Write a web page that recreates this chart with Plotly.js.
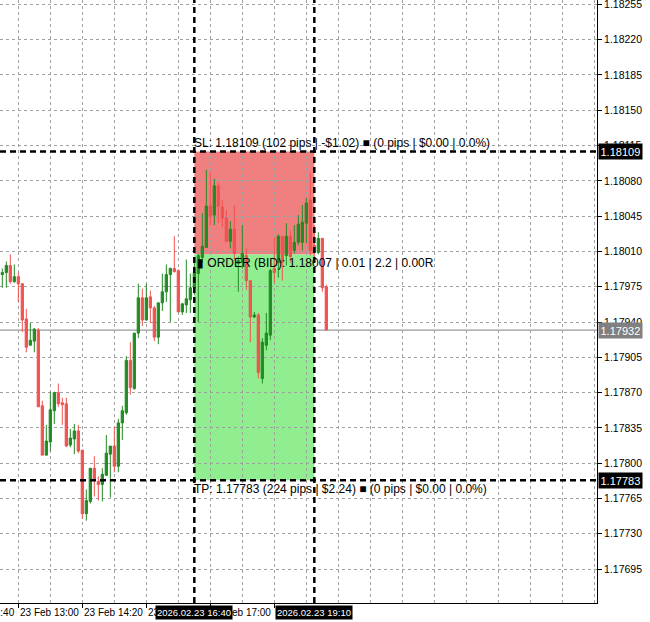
<!DOCTYPE html>
<html><head><meta charset="utf-8">
<script src="https://cdn.plot.ly/plotly-3.0.1.min.js"></script>
<style>html,body{margin:0;padding:0;background:#fff}#chart{width:650px;height:622px}</style>
</head><body><div id="chart"></div>
<script>
const day = '2026-02-23';
const times = ['12:40','12:45','12:50','12:55',
 '13:00','13:05','13:10','13:15','13:20','13:25','13:30','13:35','13:40','13:45','13:50','13:55',
 '14:00','14:05','14:10','14:15','14:20','14:25','14:30','14:35','14:40','14:45','14:50','14:55',
 '15:00','15:05','15:10','15:15','15:20','15:25','15:30','15:35','15:40','15:45','15:50','15:55',
 '16:00','16:05','16:10','16:15','16:20','16:25','16:30','16:35','16:40','16:45','16:50','16:55',
 '17:00','17:05','17:10','17:15','17:20','17:25','17:30','17:35','17:40','17:45','17:50','17:55',
 '18:00','18:05','18:10','18:15','18:20','18:25','18:30','18:35','18:40','18:45','18:50','18:55',
 '19:00','19:05','19:10','19:15','19:20','19:25'];
const opens = [1.17987,1.17989,1.17996,1.17980,1.17985,1.17978,1.17943,1.17917,1.17921,1.17932,
 1.17857,1.17808,1.17821,1.17852,1.17870,1.17860,1.17859,1.17818,1.17824,1.17832,
 1.17813,1.17750,1.17762,1.17795,1.17782,1.17779,1.17788,1.17809,1.17817,1.17797,
 1.17840,1.17850,1.17902,1.17874,1.17929,1.17964,1.17942,1.17965,1.17954,1.17925,
 1.17959,1.17970,1.17987,1.17993,1.17991,1.17950,1.17957,1.17962,1.17974,1.17988,
 1.18004,1.18014,1.18055,1.18046,1.18075,1.18054,1.18043,1.18020,1.18032,1.17998,
 1.17999,1.18006,1.17981,1.17945,1.17947,1.17884,1.17917,1.17927,1.17993,1.17999,
 1.18025,1.18006,1.18025,1.18011,1.18019,1.18019,1.18038,1.18061,1.18016,1.18009,
 1.18023,1.17975];
const highs = [1.17993,1.18000,1.18007,1.17997,1.17989,1.17978,1.17953,1.17939,1.17934,1.17934,
 1.17862,1.17838,1.17871,1.17871,1.17879,1.17865,1.17865,1.17834,1.17839,1.17838,
 1.17813,1.17774,1.17795,1.17807,1.17787,1.17795,1.17828,1.17817,1.17836,1.17844,
 1.17857,1.17906,1.17920,1.17929,1.17978,1.17973,1.17978,1.17971,1.17956,1.17959,
 1.17988,1.17997,1.17994,1.18025,1.17992,1.17959,1.18002,1.17988,1.18003,1.18008,
 1.18048,1.18091,1.18088,1.18082,1.18078,1.18061,1.18051,1.18040,1.18056,1.18005,
 1.18036,1.18013,1.17981,1.17950,1.17949,1.17924,1.17949,1.17993,1.18024,1.18027,
 1.18025,1.18038,1.18031,1.18036,1.18046,1.18056,1.18063,1.18088,1.18036,1.18029,
 1.18023,1.17977];
const lows = [1.17974,1.17974,1.17978,1.17979,1.17960,1.17930,1.17910,1.17917,1.17910,1.17856,
 1.17808,1.17808,1.17812,1.17839,1.17856,1.17838,1.17816,1.17816,1.17809,1.17810,
 1.17745,1.17743,1.17760,1.17767,1.17763,1.17762,1.17788,1.17766,1.17791,1.17791,
 1.17823,1.17848,1.17868,1.17873,1.17924,1.17936,1.17942,1.17939,1.17921,1.17918,
 1.17951,1.17960,1.17940,1.17989,1.17950,1.17947,1.17949,1.17949,1.17967,1.17940,
 1.17999,1.18014,1.18036,1.18036,1.18038,1.18034,1.18019,1.18013,1.18001,1.17970,
 1.17993,1.17972,1.17920,1.17944,1.17884,1.17879,1.17912,1.17922,1.17979,1.17984,
 1.17981,1.17996,1.17999,1.18008,1.18016,1.18011,1.18018,1.18006,1.18003,1.18007,
 1.17970,1.17932];
const closes = [1.17989,1.17996,1.17980,1.17985,1.17978,1.17942,1.17915,1.17922,1.17933,1.17856,
 1.17808,1.17822,1.17853,1.17870,1.17859,1.17858,1.17817,1.17825,1.17832,1.17812,
 1.17750,1.17763,1.17795,1.17783,1.17779,1.17789,1.17810,1.17817,1.17797,1.17840,
 1.17852,1.17902,1.17875,1.17929,1.17964,1.17942,1.17964,1.17954,1.17925,1.17959,
 1.17970,1.17987,1.17993,1.17990,1.17950,1.17958,1.17963,1.17974,1.17989,1.18006,
 1.18015,1.18055,1.18045,1.18075,1.18055,1.18043,1.18020,1.18032,1.18008,1.18001,
 1.18008,1.17981,1.17945,1.17947,1.17890,1.17920,1.17929,1.17991,1.17989,1.18025,
 1.17999,1.18025,1.18005,1.18019,1.18037,1.18039,1.18058,1.18011,1.18009,1.18023,
 1.17974,1.17932];

const slPrice = 1.18109, entryPrice = 1.18007, tpPrice = 1.17783, bidPrice = 1.17932;
const entryTime = '2026-02-23 16:40', exitTime = '2026-02-23 19:10';
const xTickTimes = ['2026-02-23 11:40','2026-02-23 13:00','2026-02-23 14:20','2026-02-23 15:40','2026-02-23 17:00','2026-02-23 18:20'];
const xTickLabels = ['23 Feb 11:40','23 Feb 13:00','23 Feb 14:20','23 Feb 15:40','23 Feb 17:00','23 Feb 18:20'];
const slText = 'SL: 1.18109 (102 pips | -$1.02) ■ (0 pips | $0.00 | 0.0%)';
const orderText = '▮ ORDER (BID): 1.18007 | 0.01 | 2.2 | 0.00R';
const tpText = 'TP: 1.17783 (224 pips | $2.24) ■ (0 pips | $0.00 | 0.0%)';
const entryLabel = '2026.02.23 16:40', exitLabel = '2026.02.23 19:10';

const xr = ['2026-02-23 12:37:06', '2026-02-24 01:03:21'];
const yr = [1.176614, 1.182593];
const toMs = s => Date.parse(s.replace(' ', 'T') + 'Z');
const xFrac = s => (toMs(s) - toMs(xr[0])) / (toMs(xr[1]) - toMs(xr[0]));

const GREEN = '#228B22', RED = '#EF5350', GRID = '#a0a0a0';
const FONT = 'Liberation Sans, Arial, sans-serif';

const trace = {
  type: 'candlestick',
  x: times.map(t => day + ' ' + t),
  open: opens, high: highs, low: lows, close: closes,
  increasing: {line: {color: GREEN, width: 1}, fillcolor: GREEN},
  decreasing: {line: {color: RED, width: 1}, fillcolor: RED},
  whiskerwidth: 0, hoverinfo: 'skip', showlegend: false
};

const dashLine = {color: '#000', width: 2.5, dash: '6px,4px'};
const shapes = [
  {type: 'rect', xref: 'x', yref: 'y', x0: entryTime, x1: exitTime, y0: slPrice, y1: entryPrice,
   fillcolor: '#F08080', line: {width: 0}, layer: 'below'},
  {type: 'rect', xref: 'x', yref: 'y', x0: entryTime, x1: exitTime, y0: entryPrice, y1: tpPrice,
   fillcolor: '#90EE90', line: {width: 0}, layer: 'below'},
  {type: 'line', xref: 'paper', yref: 'y', x0: 0, x1: 1, y0: bidPrice, y1: bidPrice,
   line: {color: '#808080', width: 1}, layer: 'below'},
  {type: 'line', xref: 'paper', yref: 'y', x0: 0, x1: 1, y0: slPrice, y1: slPrice, line: dashLine, layer: 'above'},
  {type: 'line', xref: 'paper', yref: 'y', x0: 0, x1: 1, y0: tpPrice, y1: tpPrice, line: dashLine, layer: 'above'},
  {type: 'line', xref: 'x', yref: 'paper', x0: entryTime, x1: entryTime, y0: 0, y1: 1, line: dashLine, layer: 'above'},
  {type: 'line', xref: 'x', yref: 'paper', x0: exitTime, x1: exitTime, y0: 0, y1: 1, line: dashLine, layer: 'above'}
];

const annotations = [];
xTickTimes.forEach((t, i) => {
  annotations.push({xref: 'paper', yref: 'paper', x: xFrac(t), y: 0, xanchor: 'left', yanchor: 'top',
    xshift: 0, yshift: -2, text: xTickLabels[i], showarrow: false, font: {family: FONT, size: 10, color: '#000'}});
});
const txtFont = {family: FONT, size: 12, color: '#000'};
annotations.push({xref: 'x', yref: 'y', x: entryTime, y: slPrice, xanchor: 'left', yanchor: 'bottom',
  xshift: -2, yshift: 0, text: slText, showarrow: false, font: txtFont});
annotations.push({xref: 'x', yref: 'y', x: entryTime, y: entryPrice, xanchor: 'left', yanchor: 'top',
  xshift: 1, yshift: 0, text: orderText, showarrow: false, font: txtFont});
annotations.push({xref: 'x', yref: 'y', x: entryTime, y: tpPrice, xanchor: 'left', yanchor: 'top',
  xshift: -2, yshift: 0, text: tpText, showarrow: false, font: txtFont});
[[slPrice, '#000'], [bidPrice, '#808080'], [tpPrice, '#000']].forEach(([p, bg]) => {
  annotations.push({xref: 'paper', yref: 'y', x: 1, y: p, xanchor: 'left', yanchor: 'middle', xshift: 1,
    text: p.toFixed(5), showarrow: false, bgcolor: bg, borderpad: 1.5,
    font: {family: FONT, size: 11, color: '#fff'}});
});
[[entryTime, entryLabel], [exitTime, exitLabel]].forEach(([t, lab]) => {
  annotations.push({xref: 'x', yref: 'paper', x: t, y: 0, xanchor: 'center', yanchor: 'top', yshift: -2,
    text: lab, showarrow: false, bgcolor: '#000', borderpad: 1,
    font: {family: FONT, size: 9.5, color: '#fff'}});
});

const layout = {
  width: 650, height: 622,
  margin: {l: 0, r: 53, t: 0, b: 19, pad: 0},
  paper_bgcolor: '#fff', plot_bgcolor: '#fff', showlegend: false, dragmode: false,
  font: {family: FONT, size: 10, color: '#000'},
  boxgap: 0.3, boxgroupgap: 0.2,
  xaxis: {
    type: 'date', range: xr, rangeslider: {visible: false}, fixedrange: true,
    tickmode: 'array', tickvals: xTickTimes, ticks: 'outside', ticklen: 4, tickcolor: '#000',
    showticklabels: false, showgrid: false, zeroline: false,
    showline: true, linecolor: '#000', linewidth: 1,
    minor: {tickmode: 'linear', tick0: '2026-02-23 13:00', dtick: 2400000, showgrid: true,
            gridcolor: GRID, griddash: '3px,3px', gridwidth: 1, ticks: ''}
  },
  yaxis: {
    side: 'right', range: yr, fixedrange: true,
    tickmode: 'linear', tick0: 1.17695, dtick: 0.00035, tickformat: '.5f',
    ticks: 'outside', ticklen: 4, tickcolor: '#000', ticklabeloverflow: 'allow',
    showgrid: true, gridcolor: GRID, griddash: '3px,3px', gridwidth: 1,
    zeroline: false, showline: true, linecolor: '#000', linewidth: 1,
    tickfont: {family: FONT, size: 10.5, color: '#000'}
  },
  shapes, annotations
};

Plotly.newPlot('chart', [trace], layout, {displayModeBar: false, staticPlot: true});
</script>
</body></html>
